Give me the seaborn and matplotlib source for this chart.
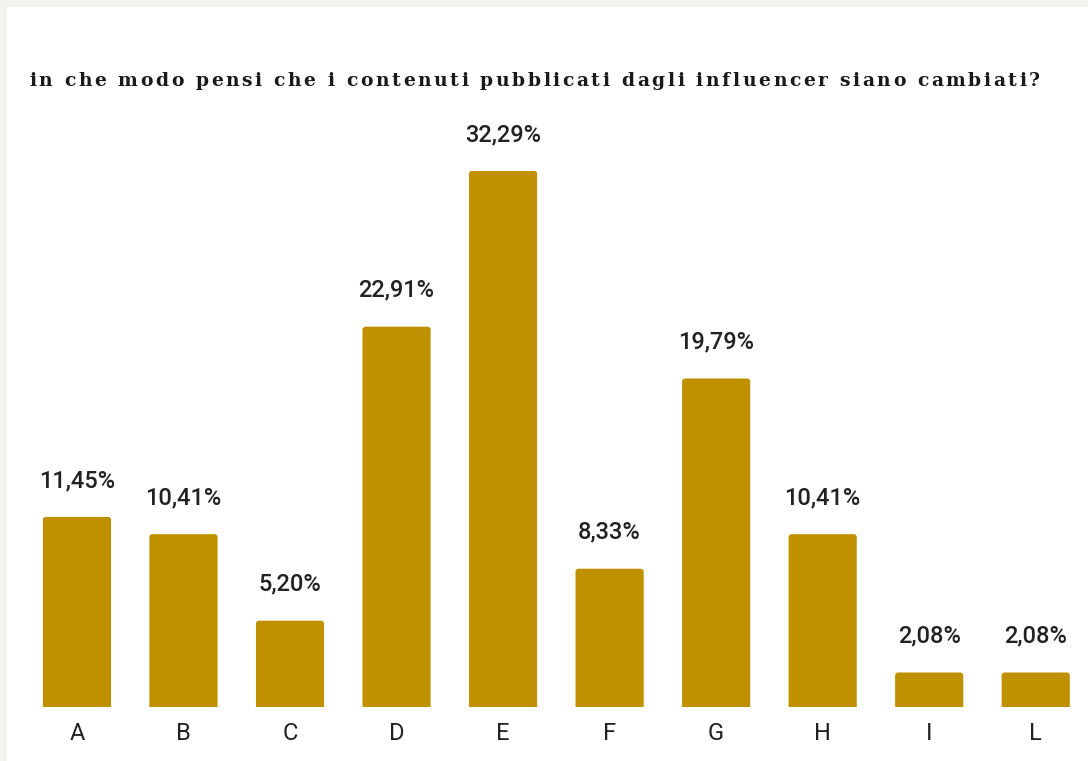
import matplotlib
matplotlib.use("Agg")
import matplotlib.pyplot as plt
from matplotlib.patches import Rectangle, FancyBboxPatch
from matplotlib.font_manager import FontProperties
import seaborn as sns
import pandas as pd

categories = ["A", "B", "C", "D", "E", "F", "G", "H", "I", "L"]
values = [11.45, 10.41, 5.20, 22.91, 32.29, 8.33, 19.79, 10.41, 2.08, 2.08]
value_labels = ["11,45%", "10,41%", "5,20%", "22,91%", "32,29%",
                "8,33%", "19,79%", "10,41%", "2,08%", "2,08%"]
title = "in che modo pensi che i contenuti pubblicati dagli influencer siano cambiati?"

BAR_COLOR = "#bf9000"
TEXT_COLOR = "#222222"
PAGE_GREY = "#f2f2ee"

sns.set_theme(style="white")
plt.rcParams["font.family"] = ["Roboto", "DejaVu Sans"]

W, H = 1088, 761
fig = plt.figure(figsize=(W / 100, H / 100), dpi=100)
fig.patch.set_facecolor("white")

# page margin strips along the top and left edges
fig.patches.append(Rectangle((0, 1 - 7 / H), 1, 7 / H, transform=fig.transFigure,
                             facecolor=PAGE_GREY, edgecolor="none", zorder=0))
fig.patches.append(Rectangle((0, 0), 7 / W, 1, transform=fig.transFigure,
                             facecolor=PAGE_GREY, edgecolor="none", zorder=0))

ax_left, ax_right = 23.7, 1089.0
ax_bottom, ax_top = 707.0, 100.0
ax = fig.add_axes([ax_left / W, (H - ax_bottom) / H,
                   (ax_right - ax_left) / W, (ax_bottom - ax_top) / H])
ax.set_facecolor("none")

df = pd.DataFrame({"categoria": categories, "percentuale": values})
sns.barplot(data=df, x="categoria", y="percentuale", color=BAR_COLOR,
            saturation=1, width=0.64, ax=ax)

px_per_unit = 16.6
ax.set_ylim(0, (ax_bottom - ax_top) / px_per_unit)
ax.set_xlim(-0.5, len(categories) - 0.5)

# swap plain rectangles for ones with softly rounded top corners
x_px = (ax_right - ax_left) / len(categories)
r_x = 3.0 / x_px
aspect = (3.0 / px_per_unit) / r_x
for p in list(ax.patches):
    x, w, h = p.get_x(), p.get_width(), p.get_height()
    fb = FancyBboxPatch((x, -1.0), w, h + 1.0,
                        boxstyle=f"round,pad=0,rounding_size={r_x}",
                        mutation_aspect=aspect, facecolor=BAR_COLOR,
                        edgecolor="none", zorder=2)
    p.remove()
    ax.add_patch(fb)

for i, (v, lab) in enumerate(zip(values, value_labels)):
    ax.annotate(lab, (i, v), xytext=(0, 30), textcoords="offset pixels",
                ha="center", va="baseline", fontsize=17, fontweight="medium",
                color=TEXT_COLOR)

ax.set_xlabel("")
ax.set_ylabel("")
ax.set_yticks([])
ax.tick_params(axis="x", length=0, pad=11, labelsize=17, labelcolor=TEXT_COLOR)
for s in ax.spines.values():
    s.set_visible(False)

# letter-spaced serif title
fp = FontProperties(family=["DejaVu Serif"], weight="bold", size=13.5)
renderer = fig.canvas.get_renderer()
x0, x1 = 29.0, 1040.0
widths = [renderer.get_text_width_height_descent(c, fp, ismath=False)[0] for c in title]
natural = sum(widths)
spacing = (x1 - x0 - natural) / (len(title) - 1)
x = x0
y = (H - 86) / H
for c, w in zip(title, widths):
    if c != " ":
        fig.text(x / W, y, c, fontproperties=fp, color="#1a1a1a",
                 ha="left", va="baseline")
    x += w + spacing

fig.savefig("out.png", dpi=100, facecolor=fig.get_facecolor())
